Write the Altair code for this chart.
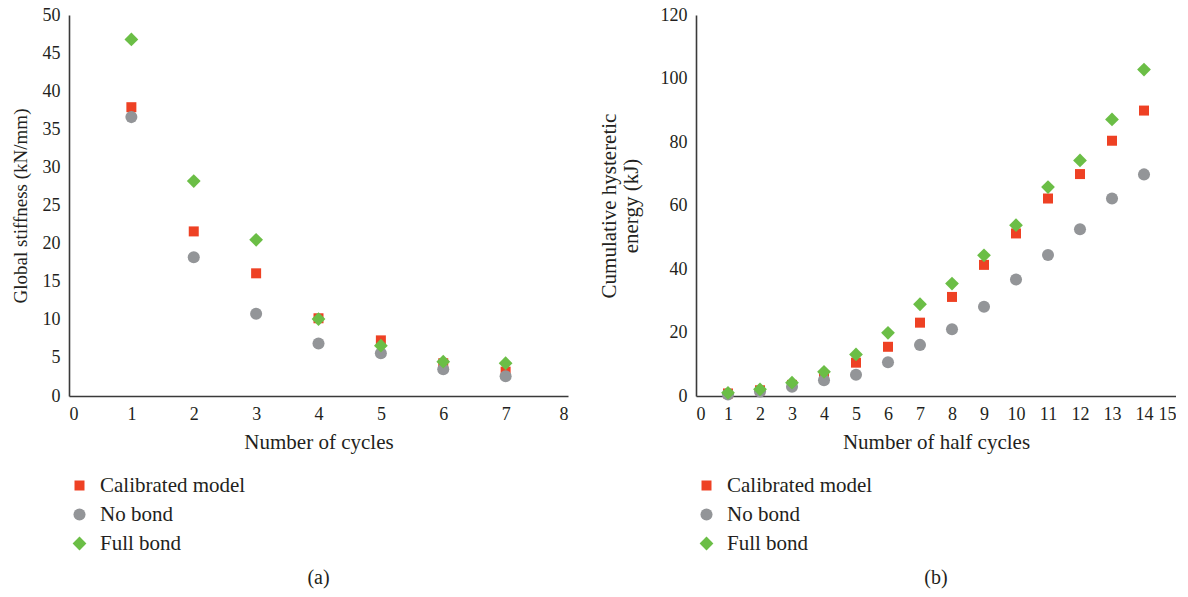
import altair as alt
import pandas as pd

series = ["Calibrated model", "No bond", "Full bond"]
colors = ["#EE4124", "#939598", "#6BBE46"]
shapes = ["square", "circle", "diamond"]
sizes = [100, 190, 210]

# Panel (a): global stiffness vs number of cycles
cycles = [1, 2, 3, 4, 5, 6, 7]
stiff_cal = [37.9, 21.6, 16.1, 10.2, 7.3, 4.3, 3.2]
stiff_nob = [36.6, 18.2, 10.8, 6.9, 5.6, 3.5, 2.6]
stiff_full = [46.8, 28.2, 20.5, 10.1, 6.6, 4.5, 4.3]

# Panel (b): cumulative hysteretic energy vs number of half cycles
half_cycles = [1, 2, 3, 4, 5, 6, 7, 8, 9, 10, 11, 12, 13, 14]
en_cal = [0.8, 1.8, 3.5, 6.5, 10.5, 15.5, 23.1, 31.2, 41.3, 51.2, 62.2, 69.9, 80.4, 89.9]
en_nob = [0.5, 1.4, 2.9, 5.0, 6.7, 10.6, 16.1, 21.0, 28.1, 36.7, 44.4, 52.5, 62.2, 69.8]
en_full = [1.0, 2.1, 4.2, 7.6, 13.1, 19.9, 28.9, 35.4, 44.3, 53.8, 65.8, 74.2, 87.1, 102.8]


def long_df(xs, ys_list):
    rows = []
    for name, ys in zip(series, ys_list):
        for x, y in zip(xs, ys):
            rows.append({"x": x, "y": y, "series": name})
    return pd.DataFrame(rows)


df_a = long_df(cycles, [stiff_cal, stiff_nob, stiff_full])
df_b = long_df(half_cycles, [en_cal, en_nob, en_full])

legend = alt.Legend(
    title=None, orient="bottom", direction="vertical", offset=23,
    labelFontSize=21, labelFont="Liberation Serif", labelColor="#231f20",
    rowPadding=7, symbolStrokeWidth=0, labelOffset=10, padding=0,
)


def panel(df, xmax, ymax, ystep, w, xtitle, ytitle, ytitle_size, ytitle_pad, caption):
    return alt.Chart(df).mark_point(filled=True, opacity=1, strokeWidth=0).encode(
        x=alt.X("x:Q", title=xtitle,
                scale=alt.Scale(domain=[0, xmax], nice=False, zero=True),
                axis=alt.Axis(values=list(range(0, xmax + 1)), format="d")),
        y=alt.Y("y:Q", title=ytitle,
                scale=alt.Scale(domain=[0, ymax], nice=False),
                axis=alt.Axis(values=list(range(0, ymax + 1, ystep)), format="d",
                              titleFontSize=ytitle_size, titleLineHeight=22,
                              titlePadding=ytitle_pad)),
        color=alt.Color("series:N", scale=alt.Scale(domain=series, range=colors), legend=legend),
        shape=alt.Shape("series:N", scale=alt.Scale(domain=series, range=shapes), legend=legend),
        size=alt.Size("series:N", scale=alt.Scale(domain=series, range=sizes), legend=legend),
    ).properties(
        width=w, height=381,
        title=alt.TitleParams(caption, orient="bottom", fontSize=20, font="Liberation Serif",
                              fontWeight="normal", color="#231f20", offset=14, anchor="middle"),
    )


pa = panel(df_a, 8, 50, 5, 499, "Number of cycles", "Global stiffness (kN/mm)", 19, 12, "(a)")
pb = panel(df_b, 15, 120, 20, 480, "Number of half cycles",
           ["Cumulative hysteretic", "energy (kJ)"], 21, 19, "(b)")

chart = alt.hconcat(pa, pb, spacing=30).resolve_scale(
    color="independent", shape="independent", size="independent"
).resolve_legend(color="independent", shape="independent", size="independent").configure(
    padding={"left": 11, "top": 6, "right": 0, "bottom": 5},
    background="white",
).configure_view(stroke=None).configure_axis(
    grid=False, ticks=False, domainColor="#3a3a3a", domainWidth=1.6,
    labelFont="Liberation Serif", labelFontSize=18, labelColor="#231f20", labelPadding=9,
    titleFont="Liberation Serif", titleFontSize=21, titleFontWeight="normal", titleColor="#231f20",
).configure_axisX(titlePadding=8)

chart.save("out.html", embed_options={"renderer": "svg", "actions": False})
